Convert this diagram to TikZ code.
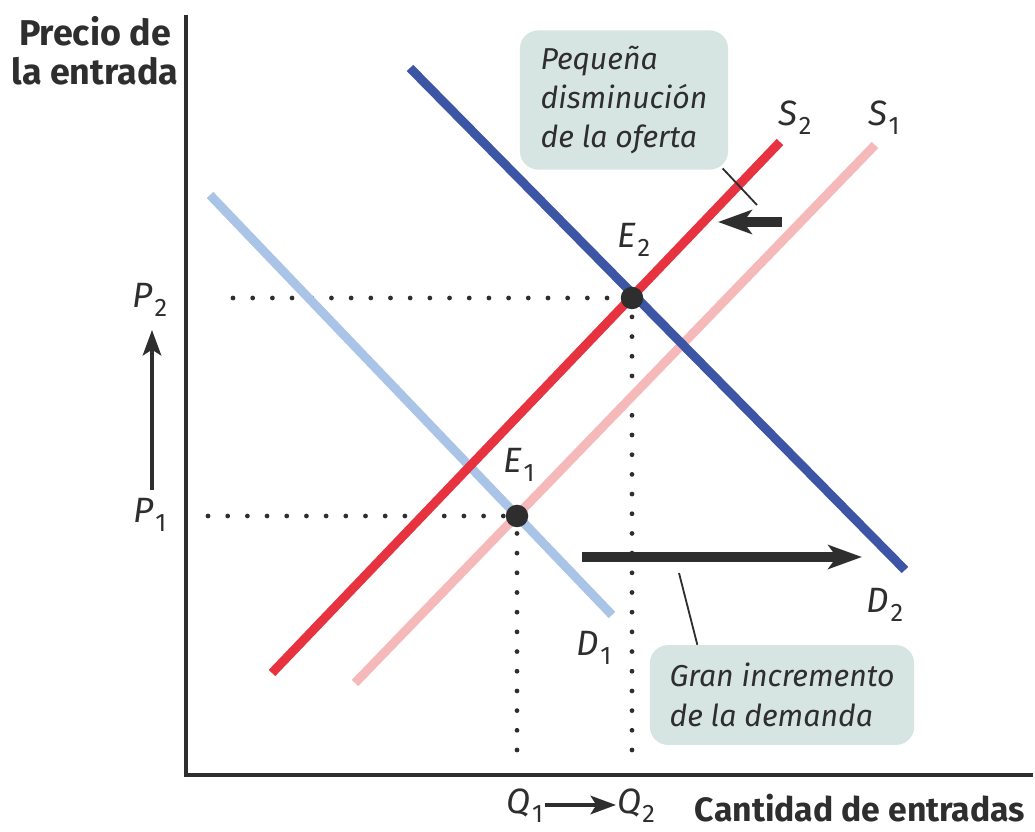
\documentclass[tikz,border=0pt]{standalone}
\usepackage{fontspec}
\setmainfont{Fira Sans}
\usepackage{tikz}
\usetikzlibrary{arrows.meta}

\definecolor{ink}{HTML}{2E2E2E}
\definecolor{demold}{HTML}{A9C4E6}
\definecolor{demnew}{HTML}{3C55A5}
\definecolor{supold}{HTML}{F6B9BA}
\definecolor{supnew}{HTML}{E73340}
\definecolor{notebg}{HTML}{D6E4E2}

\newcommand{\var}[2]{\textit{#1}\kern1pt\raisebox{-0.5ex}{\fontsize{18}{18}\selectfont #2}}

\begin{document}
\begin{tikzpicture}[x=0.025cm,y=-0.025cm,
	curve/.style={line width=6.4pt},
	guide/.style={ink,line width=3.4pt,line cap=round,dash pattern=on 0pt off 14pt},
	shiftarrow/.style={ink,line width=6.5pt,-{Stealth[length=24pt,width=17pt,inset=6pt]}},
	thinarrow/.style={ink,line width=3pt,-{Stealth[length=18pt,width=13pt,inset=4pt]}},
	pointer/.style={ink,line width=1.3pt},
	lbl/.style={text=ink,inner sep=0pt,font=\fontsize{25}{28}\selectfont},
	axislbl/.style={text=ink,inner sep=0pt,align=center,font=\fontsize{25.5}{28}\selectfont\bfseries},
	note/.style={fill=notebg,rounded corners=13pt,text=ink,align=left,inner sep=0pt,
		font=\fontsize{21.5}{28}\selectfont\itshape},
	dot/.style={circle,fill=ink,inner sep=0pt,minimum size=16pt}]
	\useasboundingbox (0,0) rectangle (1035,832);

	% axes
	\coordinate (top) at (186,15);
	\coordinate (origin) at (186,775);
	\coordinate (right) at (1033,775);
	\draw[ink,line width=2.2pt] (top) -- (origin) -- (right);
	\node[axislbl] (ylbl) at (95,51) {Precio de\\la entrada};
	\node[axislbl,font=\fontsize{24}{28}\selectfont\bfseries] (xlbl) at (860,808) {Cantidad de entradas};

	% equilibrium points and guides
	\coordinate (e1c) at (517,516);
	\coordinate (e2c) at (632,298);
	\coordinate (g1) at (208,516);
	\coordinate (g2) at (233,298);
	\coordinate (h1) at (517,750);
	\coordinate (h2) at (632,750);
	\draw[guide] (g1) -- (e1c);
	\draw[guide] (g2) -- (e2c);
	\draw[guide] (h1) -- (e1c);
	\draw[guide] (h2) -- (e2c);

	% demand and supply
	\coordinate (d1a) at (210,195);
	\coordinate (d1b) at (612,615);
	\coordinate (d2a) at (410,68);
	\coordinate (d2b) at (905,570);
	\coordinate (s1a) at (355,683);
	\coordinate (s1b) at (875,145);
	\coordinate (s2a) at (272,673);
	\coordinate (s2b) at (780,142);
	\draw[curve,supold] (s1a) -- (s1b);
	\draw[curve,demold] (d1a) -- (d1b);
	\draw[curve,supnew] (s2a) -- (s2b);
	\draw[curve,demnew] (d2a) -- (d2b);

	\node[dot] (E1) at (e1c) {};
	\node[dot] (E2) at (e2c) {};

	% labels
	\node[lbl] (E1lbl) at (519,465) {\var{E}{1}};
	\node[lbl] (E2lbl) at (634,240) {\var{E}{2}};
	\node[lbl] (S1lbl) at (884,118) {\var{S}{1}};
	\node[lbl] (S2lbl) at (795,118) {\var{S}{2}};
	\node[lbl] (D1lbl) at (594,648) {\var{D}{1}};
	\node[lbl] (D2lbl) at (885,605) {\var{D}{2}};
	\node[lbl] (P1) at (150,515) {\var{P}{1}};
	\node[lbl] (P2) at (150,300) {\var{P}{2}};
	\node[lbl] (Q1) at (525,806) {\var{Q}{1}};
	\node[lbl] (Q2) at (636,806) {\var{Q}{2}};
	\coordinate (pa) at (152,490);
	\coordinate (pb) at (152,330);
	\coordinate (qa) at (545,805);
	\coordinate (qb) at (616,805);
	\draw[thinarrow] (pa) -- (pb);
	\draw[thinarrow] (qa) -- (qb);

	% shifts
	\coordinate (sa) at (782,222);
	\coordinate (sb) at (718,222);
	\coordinate (da) at (582,557);
	\coordinate (db) at (862,557);
	\draw[shiftarrow] (sa) -- (sb);
	\draw[shiftarrow] (da) -- (db);

	% notes
	\node[note,minimum width=148pt,minimum height=99pt] (note1) at (624,100)
		{Pequeña\\disminución\\de la oferta};
	\node[note,minimum width=188pt,minimum height=71pt] (note2) at (782,695)
		{Gran incremento\\de la demanda};
	\coordinate (tip1) at (757,205);
	\coordinate (tip2) at (679,573);
	\draw[pointer] ([xshift=-4pt,yshift=1pt]note1.south east) -- (tip1);
	\draw[pointer] ([xshift=34pt]note2.north west) -- (tip2);
\end{tikzpicture}
\end{document}
